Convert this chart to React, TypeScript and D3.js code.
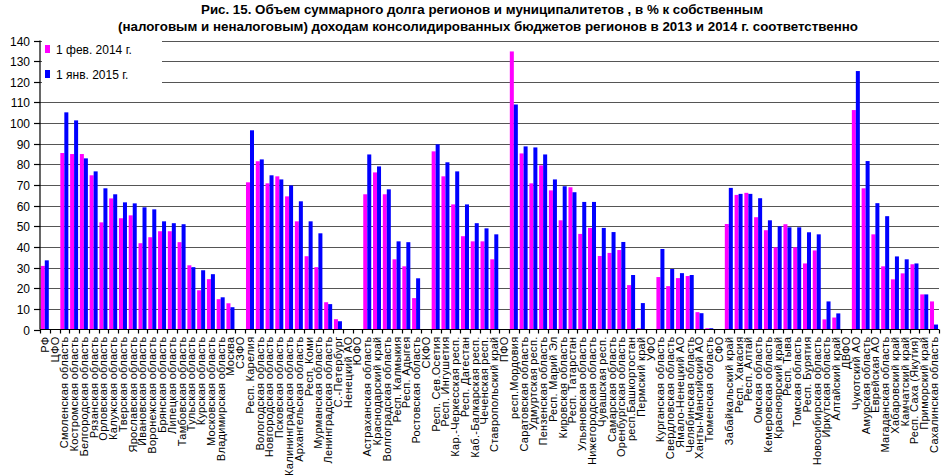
import * as d3 from 'd3';

const categories = [
  'РФ', 'ЦФО', 'Смоленская область', 'Костромская область', 'Белгородская область', 'Рязанская область',
  'Орловская область', 'Калужская область', 'Тверская область', 'Ярославская область', 'Ивановская область',
  'Воронежская область', 'Брянская область', 'Липецкая область', 'Тамбовская область', 'Тульская область',
  'Курская область', 'Московская область', 'Владимирская область', 'Москва', 'СЗФО', 'Респ. Карелия',
  'Вологодская область', 'Новгородская область', 'Псковская область', 'Калининградская область',
  'Архангельская область', 'Респ. Коми', 'Мурманская область', 'Ленинградская область', 'С.-Петербург',
  'Ненецкий АО', 'ЮФО', 'Астраханская область', 'Краснодарский край', 'Волгоградская область',
  'Респ. Калмыкия', 'Респ. Адыгея', 'Ростовская область', 'СКФО', 'Респ. Сев.Осетия', 'Респ. Ингушетия',
  'Кар.-Черкесская респ.', 'Респ. Дагестан', 'Каб.-Балкарская респ.', 'Чеченская респ.', 'Ставропольский край',
  'ПФО', 'респ.Мордовия', 'Саратовская область', 'Удмуртская респ.', 'Пензенская область', 'Респ. Марий Эл',
  'Кировская область', 'Респ. Татарстан', 'Ульяновская область', 'Нижегородская область', 'Чувашская респ.',
  'Самарская область', 'Оренбургская область', 'респ.Башкортостан', 'Пермский край', 'УФО',
  'Курганская область', 'Свердловская область', 'Ямало-Ненецкий АО', 'Челябинская область',
  'Ханты-Мансийский АО', 'Тюменская область', 'СФО', 'Забайкальский край', 'Респ. Хакасия', 'Респ. Алтай',
  'Омская область', 'Кемеровская область', 'Красноярский край', 'Респ. Тыва', 'Томская область',
  'Респ. Бурятия', 'Новосибирская область', 'Иркутская область', 'Алтайский край', 'ДВФО', 'Чукотский АО',
  'Амурская область', 'Еврейская АО', 'Магаданская область', 'Хабаровский край', 'Камчатский край',
  'Респ. Саха (Якутия)', 'Приморский край', 'Сахалинская область',
];

// 1 фев. 2014 г.
const feb2014 = [
  30.8, null, 85.5, 85, 85, 74.7, 51.9, 63.5, 53.9, 55.3, 41.8, 44.7, 47.6, 47.6, 42.3, 31.1, 19, 24.4, 14.7, 12.7,
  null, 71.3, 81.5, 70.8, 74.2, 64.5, 52.4, 35.5, 30.2, 13.2, 5, null,
  null, 65.5, 76.1, 65.5, 34, 30.6, 15.2,
  null, 86.3, 74.2, 60.6, 45.2, 42.7, 42.7, 34,
  null, 134.7, 85.3, 70.8, 79.5, 67.4, 52.9, 68.9, 46.3, 49.2, 35.6, 37.1, 38.5, 21.5, 0.6,
  null, 25.4, 21, 24.9, 25.9, 8.4, 0.6,
  null, 51.1, 65.2, 66.2, 54.4, 48.1, 39.8, 51, 39.8, 32, 38.3, 4.9, 5.8,
  null, 106.3, 68.4, 46.1, 30.6, 24.3, 27.2, 31.6, 17, 13.6,
];

// 1 янв. 2015 г.
const jan2015 = [
  33.5, null, 105.2, 101.3, 82.9, 76.6, 68.4, 65.5, 61.6, 61.1, 59.2, 58.2, 52.4, 51.5, 51, 30.2, 28.7, 26.8, 15.6, 10.8,
  null, 96.5, 82.4, 74.7, 72.7, 69.8, 62.1, 52.4, 46.6, 12.3, 4, null,
  null, 84.8, 79, 67.9, 42.7, 42.3, 24.8,
  null, 89.7, 81, 76.6, 60.6, 51.5, 49, 46.1,
  null, 109, 88.7, 88.2, 84.8, 72.7, 69.4, 66.5, 61.8, 61.8, 49.2, 47.2, 42.4, 26.4, 12.8,
  null, 39, 29.3, 27.3, 26.4, 7.9, 0.6,
  null, 68.6, 65.7, 65.7, 63.6, 52.9, 50, 49.5, 49.5, 47.1, 46.1, 13.6, 7.8,
  null, 125.2, 81.6, 61.2, 54.9, 35.4, 34, 32, 17, 2.4,
];

const yTicks = d3.range(0, 150, 10);

const PINK = '#ff00ff';
const BLUE = '#0000ff';
const FONT = '"Liberation Sans", Arial, sans-serif';

export default function App() {
  const width = 945;
  const height = 476;
  const left = 40;
  const right = 939;
  const top = 40.5;
  const bottom = 329.5;

  const x = d3.scaleBand<string>().domain(categories).range([left, right]);
  const y = d3.scaleLinear().domain([0, 140]).range([bottom, top]);
  const bw = x.bandwidth();
  const barW = bw * 0.41;

  return (
    <div style={{ position: 'absolute', left: 0, top: 0 }}>
      <svg width={width} height={height} style={{ display: 'block', background: '#fff' }} fontFamily={FONT}>
        {/* title */}
        <text x={482} y={14} textAnchor="middle" fontSize={12.5} fontWeight="bold" textLength={562} lengthAdjust="spacingAndGlyphs">
          Рис. 15. Объем суммарного долга регионов и муниципалитетов  , в % к собственным
        </text>
        <text x={488} y={31} textAnchor="middle" fontSize={12.5} fontWeight="bold" textLength={740} lengthAdjust="spacingAndGlyphs">
          (налоговым и неналоговым) доходам  консолидированных  бюджетов  регионов в 2013 и 2014 г. соответственно
        </text>

        {/* gridlines */}
        {yTicks.filter((t) => t > 0).map((t) => (
          <line key={t} x1={left} x2={right} y1={Math.round(y(t)) + 0.5} y2={Math.round(y(t)) + 0.5} stroke="#555" strokeWidth={1.2} />
        ))}

        {/* bars */}
        {categories.map((c, i) => (
          <g key={c}>
            {feb2014[i] != null && (
              <rect x={x(c)! + bw * 0.08} y={y(feb2014[i] as number)} width={barW} height={bottom - y(feb2014[i] as number)} fill={PINK} />
            )}
            {jan2015[i] != null && (
              <rect x={x(c)! + bw * 0.08 + barW} y={y(jan2015[i] as number)} width={barW} height={bottom - y(jan2015[i] as number)} fill={BLUE} />
            )}
          </g>
        ))}

        {/* y axis */}
        <line x1={left} x2={left} y1={top} y2={bottom} stroke="#000" strokeWidth={1.2} />
        {yTicks.map((t) => (
          <g key={t} transform={`translate(0,${Math.round(y(t)) + 0.5})`}>
            <line x1={left - 6} x2={left} stroke="#000" strokeWidth={1.2} />
            <text x={30} dy="0.35em" textAnchor="end" fontSize={12}>{t}</text>
          </g>
        ))}

        {/* x axis */}
        <line x1={left} x2={right} y1={bottom} y2={bottom} stroke="#000" strokeWidth={1.2} />
        {categories.concat(['']).map((c, i) => {
          const xx = Math.round(left + i * bw) + 0.5;
          return <line key={'t' + i} x1={xx} x2={xx} y1={bottom} y2={bottom + 4} stroke="#000" strokeWidth={1.2} />;
        })}
        {categories.map((c) => (
          <text
            key={'l' + c}
            transform={`translate(${x(c)! + bw / 2},${bottom + 7}) rotate(-90)`}
            dy="0.35em"
            textAnchor="end"
            fontSize={11}
            letterSpacing={0.3}
          >
            {c}
          </text>
        ))}

        {/* legend */}
        <rect x={42} y={37} width={120} height={50} fill="#fff" />
        <rect x={45} y={45} width={5} height={8} fill={PINK} />
        <text x={56} y={53.5} fontSize={12}>1 фев. 2014 г.</text>
        <rect x={45} y={70} width={5} height={8} fill={BLUE} />
        <text x={56} y={78.5} fontSize={12}>1 янв. 2015 г.</text>
      </svg>
    </div>
  );
}
